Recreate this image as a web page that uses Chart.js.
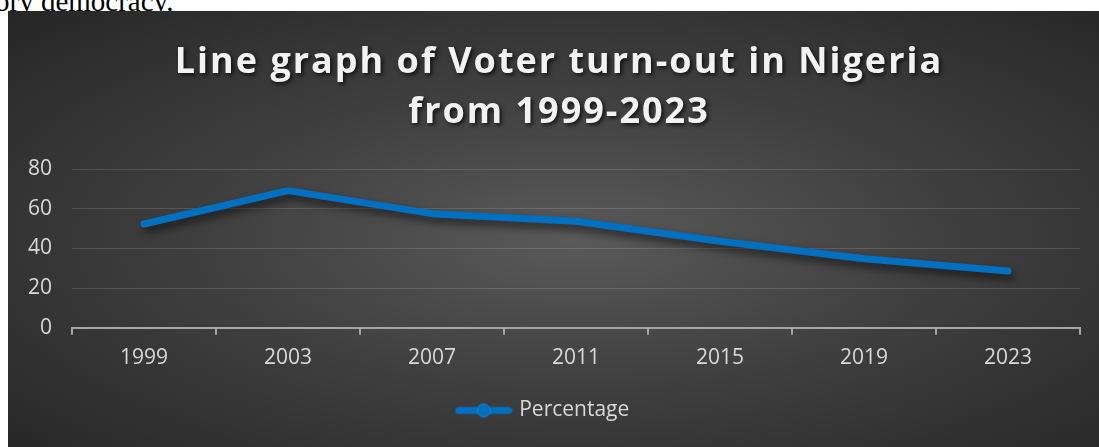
<!DOCTYPE html>
<html>
<head>
<meta charset="utf-8">
<script src="https://cdn.jsdelivr.net/npm/chart.js@4"></script>
<style>
  html, body { margin: 0; padding: 0; background: #fff; overflow: hidden; }
  body { width: 1099px; height: 447px; position: relative; }
  .doc-text {
    position: absolute; left: -5px; top: -13px;
    font-family: "Liberation Serif", "Times New Roman", serif;
    font-size: 29px; line-height: 1; color: #000; white-space: nowrap;
  }
  .panel {
    position: absolute; left: 8px; top: 11px; width: 1091px; height: 436px;
    background: radial-gradient(ellipse farthest-corner at 52% 52%, #5a5a5a 0%, #404040 45%, #262626 100%);
  }
</style>
</head>
<body>
<div class="doc-text">ory democracy.</div>
<div class="panel"><canvas id="turnout-chart"></canvas></div>
<script>
/* Voter turn-out in Nigeria, 1999-2023 */
var years = ['1999', '2003', '2007', '2011', '2015', '2019', '2023'];
var turnout = [52.3, 69.1, 57.5, 53.7, 43.6, 34.8, 28.6];
var titleLines = ['Line graph of Voter turn-out in Nigeria', 'from 1999-2023'];
var seriesName = 'Percentage';

(function() {
  var blue = '#0070c0';
  var labelColor = '#d9d9d9';
  var font = "'Open Sans', sans-serif";

  // legend icon: line with a round marker, like the office style
  var icon = document.createElement('canvas');
  icon.width = 58; icon.height = 16;
  var ic = icon.getContext('2d');
  ic.strokeStyle = blue; ic.lineWidth = 7; ic.lineCap = 'round';
  ic.beginPath(); ic.moveTo(4, 8); ic.lineTo(54, 8); ic.stroke();
  ic.fillStyle = blue;
  ic.beginPath(); ic.arc(29, 8, 6.5, 0, Math.PI * 2); ic.fill();
  ic.strokeStyle = '#1f86d6'; ic.lineWidth = 1; ic.stroke();

  // title with letter spacing and soft shadow
  var titlePlugin = {
    id: 'spacedTitle',
    afterDraw: function(chart) {
      var ctx = chart.ctx;
      ctx.save();
      ctx.font = 'bold 36px ' + font;
      ctx.letterSpacing = '2px';
      ctx.fillStyle = '#f2f2f2';
      ctx.textAlign = 'center';
      ctx.textBaseline = 'alphabetic';
      ctx.shadowColor = 'rgba(0,0,0,0.75)';
      ctx.shadowBlur = 4;
      ctx.shadowOffsetX = 2;
      ctx.shadowOffsetY = 2;
      ctx.fillText(titleLines[0], 551, 62);
      ctx.fillText(titleLines[1], 551, 112);
      ctx.restore();
    }
  };

  // drop shadow under the series line
  var shadowPlugin = {
    id: 'lineShadow',
    beforeDatasetDraw: function(chart) {
      var ctx = chart.ctx;
      ctx.save();
      ctx.shadowColor = 'rgba(0,0,0,0.6)';
      ctx.shadowBlur = 8;
      ctx.shadowOffsetX = 3;
      ctx.shadowOffsetY = 5;
    },
    afterDatasetDraw: function(chart) {
      chart.ctx.restore();
    }
  };

  new Chart(document.getElementById('turnout-chart'), {
    type: 'line',
    data: {
      labels: years,
      datasets: [{
        label: seriesName,
        data: turnout,
        borderColor: blue,
        backgroundColor: blue,
        borderWidth: 7,
        borderCapStyle: 'round',
        borderJoinStyle: 'round',
        pointRadius: 0,
        tension: 0
      }]
    },
    plugins: [titlePlugin, shadowPlugin],
    options: {
      responsive: true,
      maintainAspectRatio: false,
      animation: false,
      layout: { padding: { top: 158, left: 0, right: 19, bottom: 16 } },
      plugins: {
        title: { display: false },
        tooltip: { enabled: false },
        legend: {
          position: 'bottom',
          labels: {
            color: labelColor,
            font: { family: font, size: 21 },
            usePointStyle: true,
            pointStyle: icon,
            pointStyleWidth: 50,
            padding: 18
          }
        }
      },
      scales: {
        x: {
          offset: true,
          grid: {
            display: true,
            drawOnChartArea: false,
            drawTicks: true,
            tickLength: 7,
            offset: true,
            color: '#a6a6a6',
            lineWidth: 2
          },
          border: { display: true, color: '#a6a6a6', width: 2 },
          ticks: { color: labelColor, font: { family: font, size: 21 }, padding: 11 }
        },
        y: {
          min: 0,
          max: 80,
          ticks: { stepSize: 20, color: labelColor, font: { family: font, size: 21 }, padding: 20 },
          grid: { color: 'rgba(255,255,255,0.13)', lineWidth: 1, drawTicks: false },
          border: { display: false }
        }
      }
    }
  });
})();
</script>
</body>
</html>
